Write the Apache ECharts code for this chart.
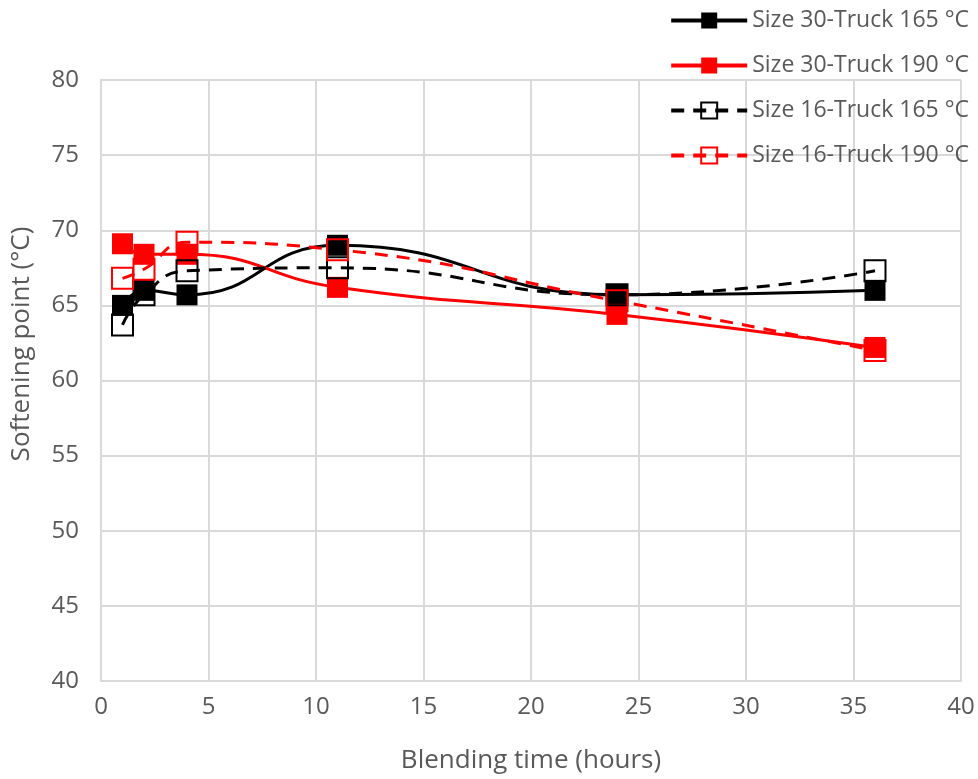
<!DOCTYPE html>
<html>
<head>
<meta charset="utf-8">
<script src="https://cdn.jsdelivr.net/npm/echarts@6/dist/echarts.min.js"></script>
<style>
  html, body { margin: 0; padding: 0; background: #fff; overflow: hidden; }
  #chart { width: 978px; height: 779px; }
</style>
</head>
<body>
<div id="chart"></div>
<script>
// Blending time in hours
const blendHours = [1, 2, 4, 11, 24, 36];

// Softening point (°C) per series
const size30Truck165 = [65.0, 66.0, 65.7, 69.0, 65.7, 66.0];
const size30Truck190 = [69.1, 68.4, 68.4, 66.2, 64.4, 62.2];
const size16Truck165 = [63.7, 65.7, 67.3, 67.5, 65.7, 67.3];
const size16Truck190 = [66.8, 67.4, 69.2, 68.7, 65.3, 62.0];

const seriesNames = [
  'Size 30-Truck 165 °C',
  'Size 30-Truck 190 °C',
  'Size 16-Truck 165 °C',
  'Size 16-Truck 190 °C'
];

const xTicks = { min: 0, max: 40, step: 5 };
const yTicks = { min: 40, max: 80, step: 5 };

const pairs = ys => blendHours.map((x, i) => [x, ys[i]]);

const font = '"Open Sans", "Noto Sans", sans-serif';
const textGrey = '#595959';
const gridGrey = '#d9d9d9';

function makeSeries(name, ys, color, filled) {
  return {
    name: name,
    type: 'line',
    data: pairs(ys),
    smooth: 0.5,
    symbol: 'rect',
    symbolSize: 21,
    showAllSymbol: true,
    lineStyle: {
      color: color,
      width: 3,
      type: filled ? 'solid' : [13, 9]
    },
    itemStyle: {
      color: filled ? color : 'rgba(0,0,0,0)',
      borderColor: color,
      borderWidth: filled ? 0 : 2
    },
    emphasis: { disabled: true }
  };
}

const chart = echarts.init(document.getElementById('chart'), null, { renderer: 'canvas', width: 978, height: 779 });

chart.setOption({
  backgroundColor: '#fff',
  animation: false,
  grid: { left: 101, top: 80, width: 860, height: 604, containLabel: false },
  legend: {
    orient: 'vertical',
    right: 4,
    top: 0,
    itemWidth: 76,
    itemHeight: 20,
    itemGap: 14,
    lineStyle: { width: 4 },
    textStyle: { color: textGrey, fontSize: 23, fontFamily: font, lineHeight: 31 },
    data: seriesNames
  },
  // vertical axis title, placed beside the value labels
  graphic: [{
    type: 'text',
    x: 22,
    y: 344,
    rotation: Math.PI / 2,
    style: {
      text: 'Softening point (°C)',
      fill: textGrey,
      font: '26px ' + font,
      align: 'center',
      verticalAlign: 'middle'
    }
  }],
  xAxis: {
    type: 'value',
    min: xTicks.min,
    max: xTicks.max,
    interval: xTicks.step,
    name: 'Blending time (hours)',
    nameLocation: 'middle',
    nameGap: 67,
    nameTextStyle: { color: textGrey, fontSize: 26, fontFamily: font },
    axisLine: { show: true, lineStyle: { color: gridGrey, width: 2 } },
    axisTick: { show: false },
    axisLabel: { color: textGrey, fontSize: 24, fontFamily: font, margin: 14 },
    splitLine: { show: true, lineStyle: { color: gridGrey, width: 2 } }
  },
  yAxis: {
    type: 'value',
    min: yTicks.min,
    max: yTicks.max,
    interval: yTicks.step,
    axisLine: { show: true, lineStyle: { color: gridGrey, width: 2 } },
    axisTick: { show: false },
    axisLabel: { color: textGrey, fontSize: 24, fontFamily: font, margin: 22 },
    splitLine: { show: true, lineStyle: { color: gridGrey, width: 2 } }
  },
  series: [
    makeSeries(seriesNames[0], size30Truck165, '#000000', true),
    makeSeries(seriesNames[1], size30Truck190, '#ff0000', true),
    makeSeries(seriesNames[2], size16Truck165, '#000000', false),
    makeSeries(seriesNames[3], size16Truck190, '#ff0000', false)
  ]
});
</script>
</body>
</html>
